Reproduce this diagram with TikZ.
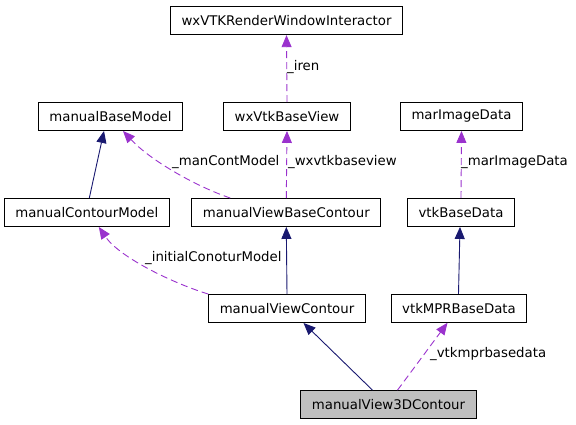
\documentclass[tikz,border=0pt]{standalone}
\usepackage{fontspec}
\setmainfont{DejaVu Sans}
\usetikzlibrary{arrows.meta}
\definecolor{inhblue}{RGB}{25,25,112}
\definecolor{usepurple}{RGB}{154,50,205}
\definecolor{boxgray}{RGB}{191,191,191}

\begin{document}
\begin{tikzpicture}[x=1pt, y=-1pt,
		cls/.style={draw=black, fill=white, line width=0.9pt, minimum height=28pt, inner xsep=11pt, inner ysep=0pt, font=\fontsize{13.3}{16}\selectfont},
		inh/.style={draw=inhblue, line width=0.9pt, -{Triangle[length=12pt,width=10pt]}},
		usage/.style={draw=usepurple, line width=0.9pt, dash pattern=on 7pt off 4pt, -{Triangle[length=12pt,width=10pt]}},
		lbl/.style={anchor=west, inner sep=0pt, font=\fontsize{13.3}{16}\selectfont}]
		\useasboundingbox (0,0) rectangle (576,424);
		
		\node[cls] (wri) at (286.5,20.7) {wxVTKRenderWindowInteractor};
		\node[cls] (mbm) at (110.5,116.5) {manualBaseModel};
		\node[cls] (wvbv) at (287,116.5) {wxVtkBaseView};
		\node[cls] (mid) at (461.5,116.5) {marImageData};
		\node[cls] (mcm) at (86.8,212.5) {manualContourModel};
		\node[cls] (mvbc) at (286.3,212.5) {manualViewBaseContour};
		\node[cls] (vbd) at (461,212.5) {vtkBaseData};
		\node[cls] (mvc) at (287,308.5) {manualViewContour};
		\node[cls] (vmbd) at (459,308.3) {vtkMPRBaseData};
		\node[cls, fill=boxgray] (mv3d) at (388.5,404.6) {manualView3DContour};
		
		\draw[usage] (wvbv.north) -- (wri.south);
		\draw[inh] ([xshift=2.5pt]mcm.north) -- ([xshift=-6.5pt]mbm.south);
		\draw[usage] ([xshift=-56pt]mvbc.north) .. controls (195,186) and (150,160) .. ([xshift=12.5pt]mbm.south);
		\draw[usage] (mvbc.north) -- (wvbv.south);
		\draw[usage] (vbd.north) -- (mid.south);
		\draw[inh] (mvc.north) -- (mvbc.south);
		\draw[usage] (mvc.north west) .. controls (175,284) and (120,258) .. ([xshift=12pt]mcm.south);
		\draw[inh] ([xshift=-0.5pt]vmbd.north) -- ([xshift=-1pt]vbd.south);
		\draw[inh] ([xshift=-16pt]mv3d.north) -- ([xshift=16.5pt]mvc.south);
		\draw[usage] ([xshift=9pt]mv3d.north) -- ([xshift=-11.5pt]vmbd.south);
		
		\node[lbl] (liren) at (287,67) {\_iren};
		\node[lbl] (lmcm) at (172,162) {\_manContModel};
		\node[lbl] (lwvbv) at (288,162) {\_wxvtkbaseview};
		\node[lbl] (lmid) at (461,162) {\_marImageData};
		\node[lbl] (licm) at (145,258) {\_initialConoturModel};
		\node[lbl] (lvmbd) at (430,354) {\_vtkmprbasedata};
		
	\end{tikzpicture}
\end{document}
